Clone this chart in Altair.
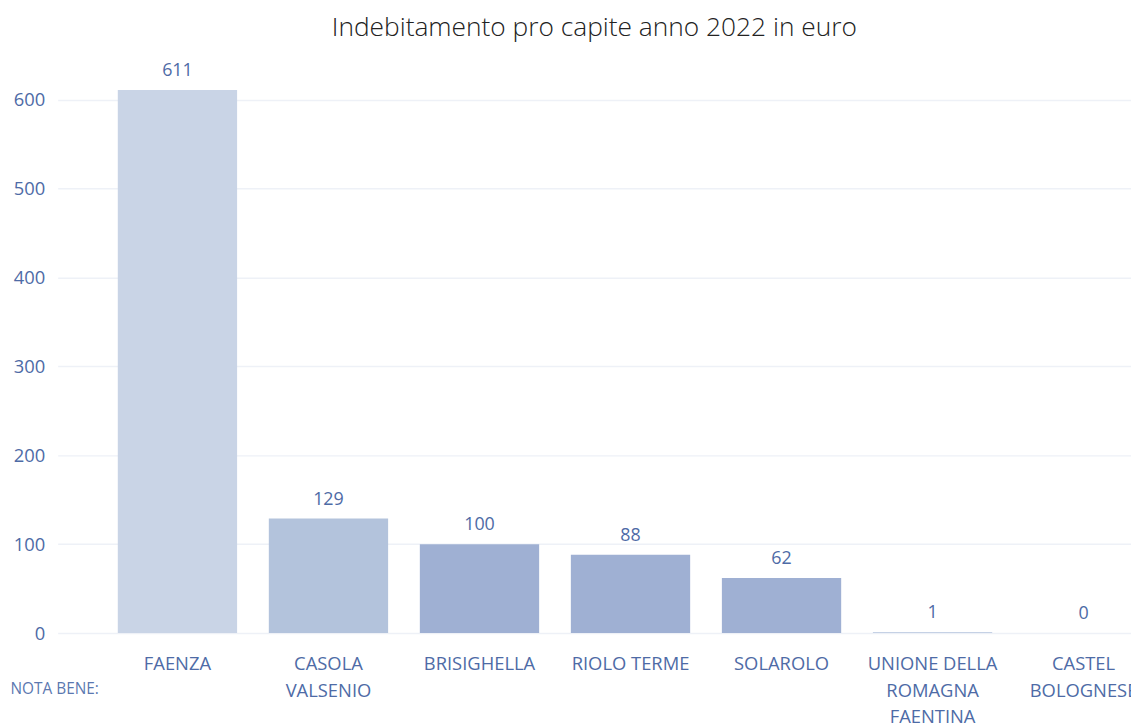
import altair as alt
import pandas as pd

categories = ["FAENZA", "CASOLA|VALSENIO", "BRISIGHELLA", "RIOLO TERME", "SOLAROLO",
              "UNIONE DELLA|ROMAGNA|FAENTINA", "CASTEL|BOLOGNESE"]
values = [611, 129, 100, 88, 62, 1, 0]
colors = ["#C9D4E6", "#B3C3DC", "#9FB0D3", "#9FB0D3", "#9FB0D3", "#B3C3DC", "#B3C3DC"]
y_ticks = [0, 100, 200, 300, 400, 500, 600]

df = pd.DataFrame({"cat": categories, "val": values, "col": colors})

FONT = "Open Sans"
TXT = "#4E6BA6"

x = alt.X("cat:N", sort=categories,
          scale=alt.Scale(range=[0, 1110], paddingInner=0.21, paddingOuter=0.254, align=0.784),
          axis=alt.Axis(title="NOTA BENE:", titleX=-48, titleY=56, titleAlign="left",
                        titleAnchor="start", titleFontWeight="normal", titleFontSize=15.5,
                        titleColor="#5B78B0", titleFont=FONT, titleBaseline="middle",
                        labelExpr="split(datum.label, '|')", labelAngle=0,
                        labelFontSize=18.5, labelColor=TXT, labelFont=FONT,
                        labelLineHeight=26.5, labelPadding=22, labelBaseline="top",
                        domain=False, ticks=False, grid=False))

bars = alt.Chart(df).mark_bar().encode(
    x=x,
    y=alt.Y("val:Q", scale=alt.Scale(domain=[0, 650], nice=False),
            axis=alt.Axis(title=None, values=y_ticks, labelFontSize=18.5, labelColor=TXT,
                          labelFont=FONT, labelPadding=13, domain=False, ticks=False,
                          gridColor="#EEF1F7", gridWidth=1.5)),
    color=alt.Color("col:N", scale=None),
)

labels = alt.Chart(df).mark_text(baseline="bottom", dy=-10, fontSize=18, color=TXT, font=FONT).encode(
    x=alt.X("cat:N", sort=categories),
    y="val:Q",
    text="val:Q",
)

chart = alt.layer(bars, labels).properties(
    width=1081, height=582,
    title=alt.TitleParams("Indebitamento pro capite anno 2022 in euro", fontSize=26.5,
                          font=FONT, fontWeight=300, color="#222222", anchor="middle",
                          offset=14),
    autosize=alt.AutoSizeParams(type="none"),
    padding={"left": 50, "top": 45, "right": 0, "bottom": 92},
).configure_view(stroke=None)

chart.save("out.html", embed_options={"renderer": "svg", "actions": False})
